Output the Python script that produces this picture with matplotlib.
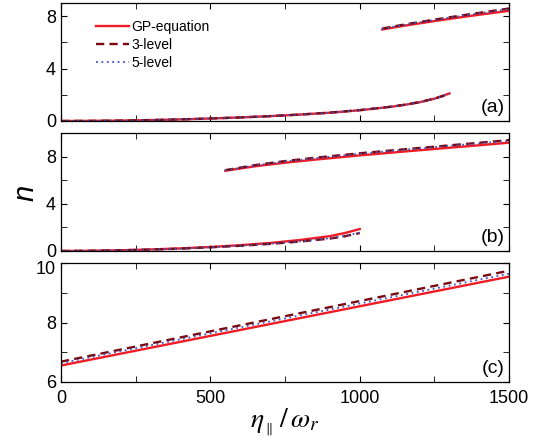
import numpy as np
import matplotlib.pyplot as plt
import matplotlib.transforms as mtransforms
from matplotlib.ticker import MultipleLocator

plt.rcParams['font.family'] = ['Liberation Sans', 'DejaVu Sans']
plt.rcParams['mathtext.fontset'] = 'stix'

# panel (a): lower and upper branches
a_lo_x = [0, 100, 200, 300, 400, 500, 600, 700, 800, 900, 1000, 1100, 1150, 1200, 1250, 1300]
a_lo_gp = [0.0, 0.01, 0.03, 0.07, 0.12, 0.19, 0.27, 0.37, 0.49, 0.63, 0.82, 1.07, 1.23, 1.43, 1.70, 2.10]
a_lo_3 = [0.0, 0.01, 0.03, 0.07, 0.12, 0.19, 0.27, 0.37, 0.49, 0.64, 0.83, 1.08, 1.24, 1.44, 1.71, 2.05]
a_lo_5 = [0.0, 0.01, 0.03, 0.07, 0.12, 0.19, 0.27, 0.37, 0.49, 0.63, 0.82, 1.07, 1.23, 1.43, 1.70, 2.08]
a_hi_x = [1075, 1150, 1250, 1350, 1425, 1500]
a_hi_gp = [6.98, 7.27, 7.62, 7.95, 8.18, 8.40]
a_hi_3 = [7.05, 7.36, 7.73, 8.08, 8.33, 8.58]
a_hi_5 = [7.03, 7.33, 7.70, 8.05, 8.29, 8.53]

# panel (b)
b_lo_x = [0, 100, 200, 300, 400, 500, 600, 700, 800, 900, 950, 1000]
b_lo_gp = [0.0, 0.02, 0.06, 0.13, 0.22, 0.34, 0.49, 0.68, 0.93, 1.26, 1.52, 1.86]
b_lo_3 = [0.0, 0.02, 0.06, 0.12, 0.20, 0.31, 0.44, 0.60, 0.80, 1.05, 1.25, 1.52]
b_lo_5 = [0.0, 0.02, 0.06, 0.12, 0.20, 0.31, 0.45, 0.61, 0.82, 1.08, 1.28, 1.56]
b_hi_x = [550, 650, 750, 850, 1000, 1150, 1300, 1400, 1500]
b_hi_gp = [6.80, 7.18, 7.48, 7.74, 8.10, 8.43, 8.75, 8.96, 9.18]
b_hi_3 = [6.85, 7.28, 7.62, 7.90, 8.28, 8.62, 8.95, 9.17, 9.40]
b_hi_5 = [6.83, 7.25, 7.58, 7.86, 8.24, 8.58, 8.91, 9.12, 9.34]

# panel (c)
c_x = [0, 1500]
c_gp = [6.55, 9.55]
c_3 = [6.68, 9.75]
c_5 = [6.63, 9.65]

red = '#ee1c25'
dred = '#7a0a10'
blue = '#3a55c8'

fig = plt.figure(figsize=(5.44, 4.44), dpi=100)
ax_a = fig.add_axes([0.112, 0.7275, 0.824, 0.2658])
ax_b = fig.add_axes([0.112, 0.4347, 0.824, 0.2658])
ax_c = fig.add_axes([0.112, 0.14, 0.824, 0.267])


def draw(ax, x, gp, l3, l5, label=False):
    ax.plot(x, gp, color=red, lw=1.7, label='GP-equation' if label else None)
    ax.plot(x, l3, color=dred, lw=1.7, ls=(0, (3.5, 2.2)), label='3-level' if label else None)
    ax.plot(x, l5, color=blue, lw=1.3, ls=(0, (1, 2)), label='5-level' if label else None)


draw(ax_a, a_lo_x, a_lo_gp, a_lo_3, a_lo_5, label=True)
draw(ax_a, a_hi_x, a_hi_gp, a_hi_3, a_hi_5)
draw(ax_b, b_lo_x, b_lo_gp, b_lo_3, b_lo_5)
draw(ax_b, b_hi_x, b_hi_gp, b_hi_3, b_hi_5)
draw(ax_c, c_x, c_gp, c_3, c_5)

ax_a.set_ylim(0, 9)
ax_b.set_ylim(0, 10)
ax_c.set_ylim(6, 10)
for ax in (ax_a, ax_b):
    ax.yaxis.set_major_locator(MultipleLocator(4))
    ax.yaxis.set_minor_locator(MultipleLocator(2))
ax_c.yaxis.set_major_locator(MultipleLocator(2))
ax_c.yaxis.set_minor_locator(MultipleLocator(1))

for ax, lab in zip((ax_a, ax_b, ax_c), ('(a)', '(b)', '(c)')):
    ax.set_xlim(0, 1500)
    ax.xaxis.set_major_locator(MultipleLocator(500))
    ax.xaxis.set_minor_locator(MultipleLocator(250))
    ax.tick_params(which='both', direction='in', top=True, right=True, labelsize=13)
    ax.tick_params(which='major', length=4)
    ax.tick_params(which='minor', length=4)
    ax.tick_params(axis='x', pad=6)
    ax.text(0.99, 0.04, lab, transform=ax.transAxes, ha='right', va='bottom', fontsize=14)
    for s in ax.spines.values():
        s.set_linewidth(0.9)
ax_a.tick_params(labelbottom=False)
ax_b.tick_params(labelbottom=False)

ax_a.legend(loc='upper left', bbox_to_anchor=(0.066, 0.905), frameon=False, fontsize=10,
            handlelength=2.4, handletextpad=0.15, labelspacing=0.3, borderaxespad=0)

ax_c.set_xlabel(r'$\eta_{_\parallel}\,/\,\omega_r$', fontsize=20, labelpad=0)
fig.text(0.046, 0.565, 'n', fontsize=21, style='italic', rotation=90, ha='center', va='center')

# the top label of panel (c) sits a little below its tick, as in the original
fig.canvas.draw()
off = mtransforms.ScaledTranslation(0, -0.045, fig.dpi_scale_trans)
for t in ax_c.yaxis.get_major_ticks():
    if abs(t.get_loc() - 10) < 1e-6:
        t.label1.set_transform(t.label1.get_transform() + off)

fig.savefig('out.png', dpi=100)
